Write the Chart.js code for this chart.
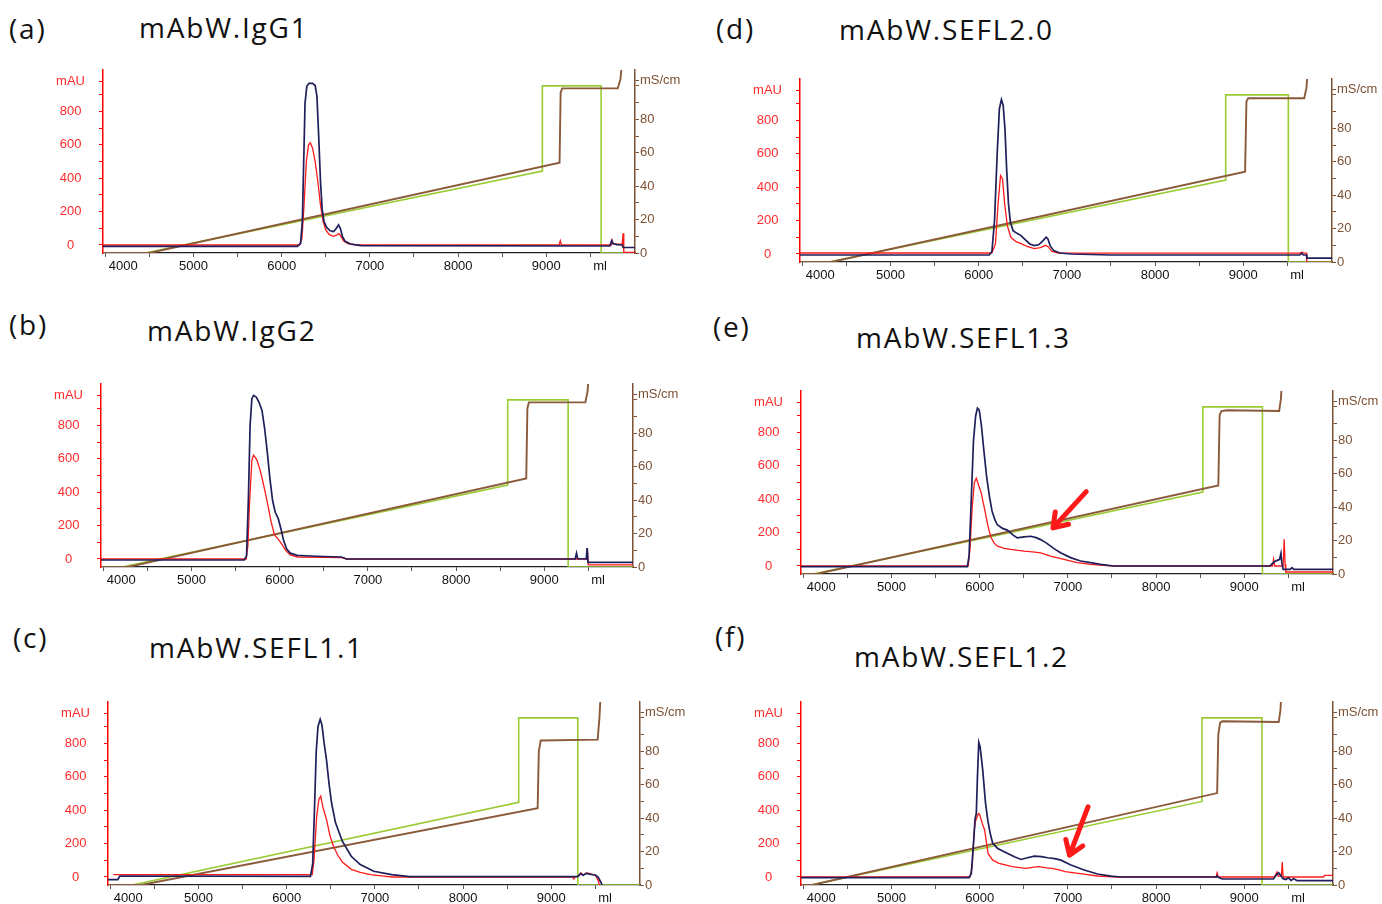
<!DOCTYPE html>
<html>
<head>
<meta charset="utf-8">
<script src="https://cdn.jsdelivr.net/npm/chart.js@4.4.1/dist/chart.umd.min.js"></script>
<style>
  html, body { margin: 0; padding: 0; background: #fff; }
  body { width: 1382px; height: 904px; position: relative; overflow: hidden; }
  .panel { position: absolute; }
  .lbl { position: absolute; font-family: "Open Sans", Lato, sans-serif; font-size: 28px; letter-spacing: 1.8px; line-height: 32px; color: #111; white-space: nowrap; }
</style>
</head>
<body>
<div class="lbl" style="left:9px; top:12px;">(a)</div>
<div class="lbl" style="left:139px; top:11px;">mAbW.IgG1</div>
<div class="lbl" style="left:9px; top:308px;">(b)</div>
<div class="lbl" style="left:147px; top:314px;">mAbW.IgG2</div>
<div class="lbl" style="left:13px; top:621px;">(c)</div>
<div class="lbl" style="left:149px; top:631px;">mAbW.SEFL1.1</div>
<div class="lbl" style="left:716px; top:12px;">(d)</div>
<div class="lbl" style="left:839px; top:13px;">mAbW.SEFL2.0</div>
<div class="lbl" style="left:713px; top:310px;">(e)</div>
<div class="lbl" style="left:856px; top:321px;">mAbW.SEFL1.3</div>
<div class="lbl" style="left:715px; top:620px;">(f)</div>
<div class="lbl" style="left:854px; top:640px;">mAbW.SEFL1.2</div>

<script>
// axis ticks (ml, mAU, mS/cm)
const xTickValues = [4000, 4500, 5000, 5500, 6000, 6500, 7000, 7500, 8000, 8500, 9000, 9500];
const xUnitAt = 9610;
const mauTickValues = [0, 100, 200, 300, 400, 500, 600, 700, 800, 900];
const mauUnitAt = 980;
const condTickValues = [0, 10, 20, 30, 40, 50, 60, 70, 80, 90, 100];
const condUnitAt = 103;

// (a) mAbW.IgG1
const aUV280 = [[3975,-8],[6180,-8],[6215,10],[6235,150],[6250,500],[6265,850],[6285,950],[6310,968],[6350,968],[6380,955],[6400,890],[6420,650],[6440,380],[6460,210],[6480,140],[6510,105],[6550,85],[6590,80],[6620,100],[6645,120],[6665,100],[6690,50],[6720,22],[6780,6],[6900,-4],[9720,-6],[9740,25],[9755,8],[9800,2],[9860,0],[9870,-15],[10005,-15]];
const aUV = [[3975,0],[6200,0],[6230,40],[6255,250],[6280,500],[6305,600],[6325,612],[6350,580],[6380,500],[6410,380],[6440,240],[6470,140],[6500,90],[6540,62],[6590,52],[6625,60],[6650,68],[6675,50],[6700,25],[6750,8],[6850,0],[9145,0],[9158,25],[9170,0],[9735,0],[9746,28],[9760,5],[9860,5],[9870,70],[9878,-45],[10005,-45]];
const aCond = [[3975,0],[4500,0],[9150,54],[9162,96],[9180,98.5],[9810,98.5],[9840,104],[9860,115]];
const aGrad = [[3975,0],[4450,0],[8955,49],[8955,100],[9621,100],[9621,0],[10005,0]];

// (b) mAbW.IgG2
const bUV280 = [[3975,-6],[5600,-6],[5625,20],[5645,350],[5665,800],[5685,960],[5705,980],[5735,970],[5765,940],[5800,890],[5830,780],[5860,640],[5890,480],[5920,350],[5950,280],[5985,240],[6015,180],[6045,110],[6080,60],[6120,35],[6200,22],[6350,18],[6500,15],[6700,12],[6760,0],[9350,0],[9365,35],[9378,2],[9475,0],[9485,65],[9495,-20],[10005,-20]];
const bUV = [[3975,0],[5620,0],[5640,80],[5660,350],[5685,590],[5705,622],[5740,595],[5780,530],[5820,440],[5860,340],[5900,230],[5940,145],[5990,115],[6030,85],[6070,50],[6120,25],[6200,12],[6500,10],[6700,8],[6760,0],[9478,0],[9488,65],[9498,-35],[10005,-35]];
const bCond = [[3975,0],[4280,0],[8795,53],[8808,95],[8825,98.5],[9465,98.5],[9490,105],[9510,120]];
const bGrad = [[3975,0],[4215,0],[8585,49],[8585,100],[9270,100],[9270,0],[10005,0]];

// (c) mAbW.SEFL1.1
const cUV280 = [[3975,-16],[4085,-16],[4110,6],[6270,4],[6295,80],[6315,400],[6335,750],[6355,900],[6380,944],[6400,910],[6425,800],[6452,700],[6480,560],[6510,440],[6554,324],[6631,214],[6732,124],[6834,74],[6987,34],[7190,14],[7394,2],[9300,2],[9330,20],[9360,10],[9400,22],[9450,15],[9500,12],[9530,0],[9560,-30],[9575,-48]];
const cUV = [[4035,14],[6290,14],[6310,100],[6340,360],[6365,465],[6386,484],[6410,420],[6452,344],[6490,250],[6530,184],[6580,130],[6631,90],[6732,46],[6834,28],[6950,14],[7100,5],[7200,0],[9240,0],[9255,-12],[9270,0],[9320,10],[9335,25],[9360,12],[9400,24],[9440,20],[9500,10],[9530,-20],[9545,-48]];
const cCond = [[3975,0],[4350,0],[8845,46],[8858,80],[8880,86.5],[9525,87],[9545,100],[9565,120]];
const cGrad = [[3975,0],[4250,0],[8630,49.5],[8630,100],[9300,100],[9300,0],[10005,0]];

// (d) mAbW.SEFL2.0
const dUV280 = [[3975,-6],[6120,-6],[6150,15],[6180,200],[6210,600],[6235,870],[6258,925],[6278,890],[6298,750],[6318,500],[6338,300],[6360,190],[6390,140],[6430,125],[6480,110],[6530,85],[6580,60],[6630,50],[6680,55],[6730,80],[6765,100],[6785,90],[6810,50],[6850,20],[6920,6],[7050,0],[7500,-6],[9640,-6],[9660,5],[9680,-6],[9715,-6],[9720,-25],[10005,-25]];
const dUV = [[3975,6],[6150,6],[6190,60],[6220,300],[6248,470],[6270,450],[6295,300],[6325,170],[6365,100],[6420,75],[6480,62],[6550,45],[6630,32],[6700,38],[6760,52],[6790,42],[6830,15],[6900,5],[9640,5],[9660,10],[9690,5],[9715,5],[9720,-50],[10005,-50]];
const dCond = [[3975,0],[4330,0],[9020,54],[9035,96],[9055,98],[9690,98],[9715,104],[9740,120]];
const dGrad = [[3975,0],[4300,0],[8800,49],[8800,100],[9510,100],[9510,0],[10005,0]];

// (e) mAbW.SEFL1.3
const eUV280 = [[3975,-4],[5860,-4],[5880,60],[5905,400],[5930,750],[5955,900],[5975,945],[5995,935],[6020,840],[6050,680],[6080,530],[6110,420],[6140,330],[6170,280],[6200,247],[6260,225],[6313,215],[6380,185],[6427,168],[6502,174],[6578,178],[6640,170],[6691,158],[6750,140],[6804,119],[6860,98],[6917,79],[7030,50],[7144,30],[7257,20],[7370,10],[7521,0],[9290,0],[9340,25],[9380,35],[9400,40],[9415,75],[9425,20],[9440,-20],[9520,-20],[9540,-10],[9560,-20],[10005,-20]];
const eUV = [[3975,0],[5870,0],[5890,100],[5915,350],[5940,500],[5962,525],[5985,490],[6019,435],[6060,330],[6095,237],[6126,175],[6160,140],[6200,119],[6280,105],[6351,99],[6502,89],[6600,85],[6691,79],[6804,59],[6955,40],[7106,20],[7257,10],[7400,4],[7521,0],[9320,0],[9332,40],[9345,0],[9440,0],[9452,160],[9462,10],[9470,-36],[10005,-36]];
const eCond = [[3975,0],[4150,0],[8705,53],[8720,95],[8740,97.5],[8800,98],[9395,97.5],[9415,105],[9430,120]];
const eGrad = [[3975,0],[4110,0],[8530,49],[8530,100],[9205,100],[9205,0],[10005,0]];
const eArrow = [[7208,445],[6831,228]];

// (f) mAbW.SEFL1.2
const fUV280 = [[3975,-4],[5880,-4],[5905,20],[5930,200],[5948,350],[5962,380],[5975,600],[5990,806],[6005,780],[6035,640],[6065,450],[6092,340],[6120,260],[6148,201],[6205,171],[6318,141],[6400,120],[6469,105],[6540,115],[6620,125],[6700,122],[6770,115],[6850,110],[6921,101],[7034,72],[7185,42],[7336,18],[7487,5],[7600,0],[8680,0],[8690,5],[8700,0],[8750,-12],[9330,-12],[9360,10],[9390,25],[9410,10],[9440,-10],[9470,-15],[9500,-5],[9530,-20],[9560,-10],[9600,-22],[10005,-22]];
const fUV = [[3975,0],[5890,0],[5915,60],[5935,250],[5950,330],[5965,350],[5985,380],[6000,375],[6030,320],[6057,280],[6095,141],[6148,101],[6220,82],[6370,62],[6520,52],[6600,58],[6670,62],[6760,55],[6820,52],[6900,42],[6970,32],[7160,18],[7336,6],[7560,0],[8680,0],[8692,25],[8705,0],[9340,0],[9370,30],[9385,5],[9420,5],[9430,90],[9440,0],[9900,0],[9910,10],[10005,10]];
const fCond = [[3975,0],[4100,0],[8692,55],[8705,90],[8725,97],[8750,98],[9390,97.5],[9410,105],[9425,120]];
const fGrad = [[3975,0],[4090,0],[8520,50],[8520,100],[9200,100],[9200,0],[10005,0]];
const fArrow = [[7228,420],[7019,131]];

// plot box sizes and page placement of each panel (axis corner)
const PLOT_W = 532, PLOT_H = 183;
const LW = 70, RW = 70, TP = 14, XH = 32;

const panels = [
  { left: 103, top: 70, uv280: aUV280, uv: aUV, cond: aCond, grad: aGrad },
  { left: 101, top: 384, uv280: bUV280, uv: bUV, cond: bCond, grad: bGrad },
  { left: 108, top: 702, uv280: cUV280, uv: cUV, cond: cCond, grad: cGrad },
  { left: 800, top: 79, uv280: dUV280, uv: dUV, cond: dCond, grad: dGrad },
  { left: 801, top: 391, uv280: eUV280, uv: eUV, cond: eCond, grad: eGrad, arrow: eArrow },
  { left: 801, top: 702, uv280: fUV280, uv: fUV, cond: fCond, grad: fGrad, arrow: fArrow },
];

const tickFont = { family: "'Liberation Sans', Arial, sans-serif", size: 13 };

// red annotation arrow, given in data units
const arrowPlugin = {
  id: "arrow",
  afterDatasetsDraw(chart, args, opts) {
    if (!opts.points) return;
    const xs = chart.scales.x, ys = chart.scales.y;
    const [from, to] = opts.points;
    const x1 = xs.getPixelForValue(from[0]), y1 = ys.getPixelForValue(from[1]);
    const x2 = xs.getPixelForValue(to[0]), y2 = ys.getPixelForValue(to[1]);
    const ang = Math.atan2(y2 - y1, x2 - x1);
    const head = 16;
    const ctx = chart.ctx;
    ctx.save();
    ctx.strokeStyle = "#ff1a1a";
    ctx.lineWidth = 5;
    ctx.lineCap = "round";
    ctx.lineJoin = "round";
    ctx.beginPath();
    ctx.moveTo(x1, y1);
    ctx.lineTo(x2, y2);
    ctx.moveTo(x2 - head * Math.cos(ang - 0.6), y2 - head * Math.sin(ang - 0.6));
    ctx.lineTo(x2, y2);
    ctx.lineTo(x2 - head * Math.cos(ang + 0.6), y2 - head * Math.sin(ang + 0.6));
    ctx.stroke();
    ctx.restore();
  },
};

function line(points, color, width, axis, order) {
  return {
    data: points.map(([x, y]) => ({ x, y })),
    borderColor: color,
    borderWidth: width,
    yAxisID: axis,
    order: order,
    showLine: true,
    pointRadius: 0,
    tension: 0,
  };
}

// keep the plot box exactly PLOT_W x PLOT_H
function fixWidth(w) {
  return (s) => {
    s.width = w;
    s.paddingTop = 0;
    s.paddingBottom = 0;
  };
}

panels.forEach((p) => {
  const wrap = document.createElement("div");
  wrap.className = "panel";
  wrap.style.left = p.left - LW + "px";
  wrap.style.top = p.top - TP + "px";
  const canvas = document.createElement("canvas");
  canvas.width = LW + PLOT_W + RW;
  canvas.height = TP + PLOT_H + XH;
  wrap.appendChild(canvas);
  document.body.appendChild(wrap);

  new Chart(canvas, {
    type: "scatter",
    data: {
      datasets: [
        line(p.uv280, "#1f1f5c", 1.7, "y", 1),
        line(p.uv, "#ff1a1a", 1.3, "y", 2),
        line(p.cond, "#8b5a3a", 1.9, "y2", 3),
        line(p.grad, "#99cc33", 1.6, "y2", 4),
      ],
    },
    options: {
      responsive: false,
      animation: false,
      layout: { padding: { top: TP } },
      plugins: {
        legend: { display: false },
        tooltip: { enabled: false },
        arrow: { points: p.arrow },
      },
      scales: {
        x: {
          type: "linear",
          min: 3975,
          max: 10005,
          border: { color: "#222", width: 1.3 },
          grid: {
            drawOnChartArea: false,
            tickLength: 4,
            tickColor: (c) => (c.tick && c.tick.value === xUnitAt ? "rgba(0,0,0,0)" : "#555"),
          },
          afterBuildTicks: (s) => {
            s.ticks = [...xTickValues, xUnitAt].map((v) => ({ value: v }));
          },
          afterFit: (s) => {
            s.height = XH;
          },
          ticks: {
            autoSkip: false,
            maxRotation: 0,
            padding: 2,
            color: "#111",
            font: tickFont,
            callback: (v) => {
              if (v === xUnitAt) return "ml";
              if (v % 1000 !== 0) return "";
              return v === 4000 ? "\u2007\u2007\u2007\u2007\u20074000" : String(v);
            },
          },
        },
        y: {
          position: "left",
          min: -48,
          max: 1048,
          border: { color: "#ff0000", width: 1.5 },
          grid: { drawOnChartArea: false, tickLength: 4, tickColor: "#ff0000" },
          afterBuildTicks: (s) => {
            s.ticks = [...mauTickValues, mauUnitAt].map((v) => ({ value: v }));
          },
          afterFit: fixWidth(LW),
          ticks: {
            autoSkip: false,
            crossAlign: "center",
            padding: 14,
            color: "#ff2a2a",
            font: tickFont,
            callback: (v) => (v === mauUnitAt ? "mAU" : v % 200 === 0 ? String(v) : ""),
          },
        },
        y2: {
          position: "right",
          min: 0,
          max: 109.5,
          border: { color: "#7b5033", width: 1.5 },
          grid: { drawOnChartArea: false, tickLength: 4, tickColor: "#7b5033" },
          afterBuildTicks: (s) => {
            s.ticks = [...condTickValues, condUnitAt].map((v) => ({ value: v }));
          },
          afterFit: fixWidth(RW),
          ticks: {
            autoSkip: false,
            crossAlign: "near",
            padding: 1,
            color: "#7b5033",
            font: tickFont,
            callback: (v) => (v === condUnitAt ? "mS/cm" : v % 20 === 0 && v <= 80 ? String(v) : ""),
          },
        },
      },
    },
    plugins: [arrowPlugin],
  });
});
</script>
</body>
</html>
